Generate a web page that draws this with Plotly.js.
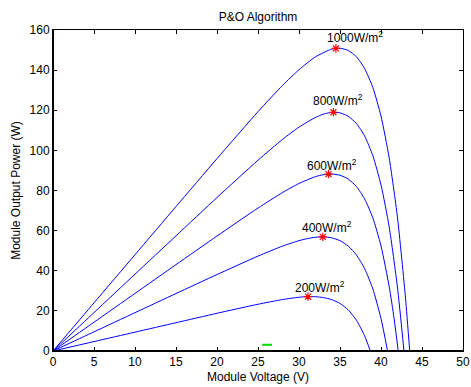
<!DOCTYPE html>
<html><head><meta charset="utf-8">
<script src="https://cdn.plot.ly/plotly-3.0.1.min.js"></script>
<style>html,body{margin:0;padding:0;background:#fff}#plot{width:471px;height:387px}</style>
</head><body><div id="plot"></div>
<script>
// Voltage samples (V) and power readings (W) for each irradiance curve
const v1000 = [0, 5, 10, 15, 20, 25, 28, 30, 32, 34, 35, 36, 37, 38, 39, 40, 41, 42, 43, 43.5];
const p1000 = [0, 24.0, 48.0, 72.0, 95.9, 119.3, 132.4, 140.2, 146.6, 150.5, 150.9, 149.8, 146.7, 140.8, 131.4, 117.1, 96.2, 66.9, 25.9, 0];
const v800 = [0, 5, 10, 15, 20, 25, 28, 30, 32, 33, 34, 35, 36, 37, 38, 39, 40, 41, 42, 42.8];
const p800 = [0, 19.15, 38.3, 57.4, 76.5, 95.1, 105.5, 111.6, 116.4, 118.1, 118.9, 118.7, 117.0, 113.4, 107.2, 97.4, 82.8, 61.8, 32.0, 0];
const v600 = [0, 5, 10, 15, 20, 25, 28, 30, 32, 33, 34, 35, 36, 37, 38, 39, 40, 41, 41.6, 42.1];
const p600 = [0, 14.35, 28.7, 43.05, 57.3, 71.25, 79.0, 83.5, 86.9, 87.9, 88.2, 87.6, 85.7, 82.0, 75.8, 66.4, 52.4, 32.1, 16.1, 0];
const v400 = [0, 5, 10, 15, 20, 25, 28, 30, 31, 32, 33, 34, 35, 36, 37, 38, 39, 40, 40.8];
const p400 = [0, 9.55, 19.1, 28.65, 38.1, 47.3, 52.3, 55.0, 56.0, 56.7, 56.9, 56.4, 55.0, 52.3, 47.9, 41.1, 31.0, 16.2, 0];
const v200 = [0, 5, 10, 15, 20, 25, 28, 30, 31, 32, 33, 34, 35, 36, 37, 38, 38.7];
const p200 = [0, 4.7, 9.4, 14.1, 18.8, 23.3, 25.65, 26.8, 27.07, 27.07, 26.6, 25.6, 23.7, 20.5, 15.4, 7.6, 0];

// Maximum power points found by P&O
const mppV = [34.5, 34.2, 33.6, 32.9, 31.1];
const mppP = [150.8, 119.0, 88.2, 56.9, 27.1];

// Irradiance labels and their anchor points
const labels = ["1000W/m<sup>2</sup>", "800W/m<sup>2</sup>", "600W/m<sup>2</sup>", "400W/m<sup>2</sup>", "200W/m<sup>2</sup>"];
const labelV = [33.2, 31.5, 30.75, 30.1, 29.3];
const labelP = [156.3, 125.1, 92.7, 61.7, 31.8];

// Short green segment near the axis
const greenV = [25.5, 26.7];
const greenP = [3.1, 3.1];

const xTicks = [0,5,10,15,20,25,30,35,40,45,50];
const yTicks = [0,20,40,60,80,100,120,140,160];

const curves = [[v1000,p1000],[v800,p800],[v600,p600],[v400,p400],[v200,p200]];
const traces = curves.map(c => ({
  x: c[0], y: c[1], type: 'scatter', mode: 'lines',
  line: {color: '#0000ff', width: 1, shape: 'spline', smoothing: 0.6},
  hoverinfo: 'skip'
}));
traces.push({
  x: mppV, y: mppP, type: 'scatter', mode: 'markers',
  marker: {symbol: 'asterisk-open', color: '#ff0000', size: 7, line: {color: '#ff0000', width: 1.2}}
});
traces.push({
  x: greenV, y: greenP, type: 'scatter', mode: 'lines',
  line: {color: '#00dd00', width: 2}
});

const font = {family: 'Liberation Sans, Arial, sans-serif', size: 12, color: '#000'};
const annotations = labels.map((t, i) => ({
  x: labelV[i], y: labelP[i], text: t, showarrow: false,
  xanchor: 'left', yanchor: 'middle', font: font
}));

const axisCommon = {
  showgrid: false, zeroline: false, showline: true, linecolor: '#000', linewidth: 1,
  mirror: 'ticks', ticks: 'inside', ticklen: 4, tickcolor: '#000', tickfont: font
};

const layout = {
  width: 471, height: 387,
  margin: {l: 53, r: 8, t: 30, b: 36},
  paper_bgcolor: '#fff', plot_bgcolor: '#fff',
  showlegend: false,
  font: font,
  title: {text: 'P&O Algorithm', font: font, x: 0.5, xref: 'paper', y: 1, yref: 'paper', yanchor: 'bottom', pad: {b: 9}},
  xaxis: Object.assign({}, axisCommon, {range: [0, 50], tickvals: xTicks, ticktext: xTicks.map(String),
    title: {text: 'Module Voltage (V)', font: font, standoff: 4}}),
  yaxis: Object.assign({}, axisCommon, {range: [0, 160], tickvals: yTicks, ticktext: yTicks.map(String),
    title: {text: 'Module Output Power (W)', font: font, standoff: 6}}),
  shapes: [
    {type: 'line', xref: 'paper', yref: 'paper', x0: 0, x1: 0, y0: 0, y1: 1, line: {color: '#000', width: 2}},
    {type: 'line', xref: 'paper', yref: 'paper', x0: 0, x1: 1, y0: 0, y1: 0, line: {color: '#000', width: 2}}
  ],
  annotations: annotations
};

Plotly.newPlot('plot', traces, layout, {displayModeBar: false, staticPlot: true});
</script></body></html>
